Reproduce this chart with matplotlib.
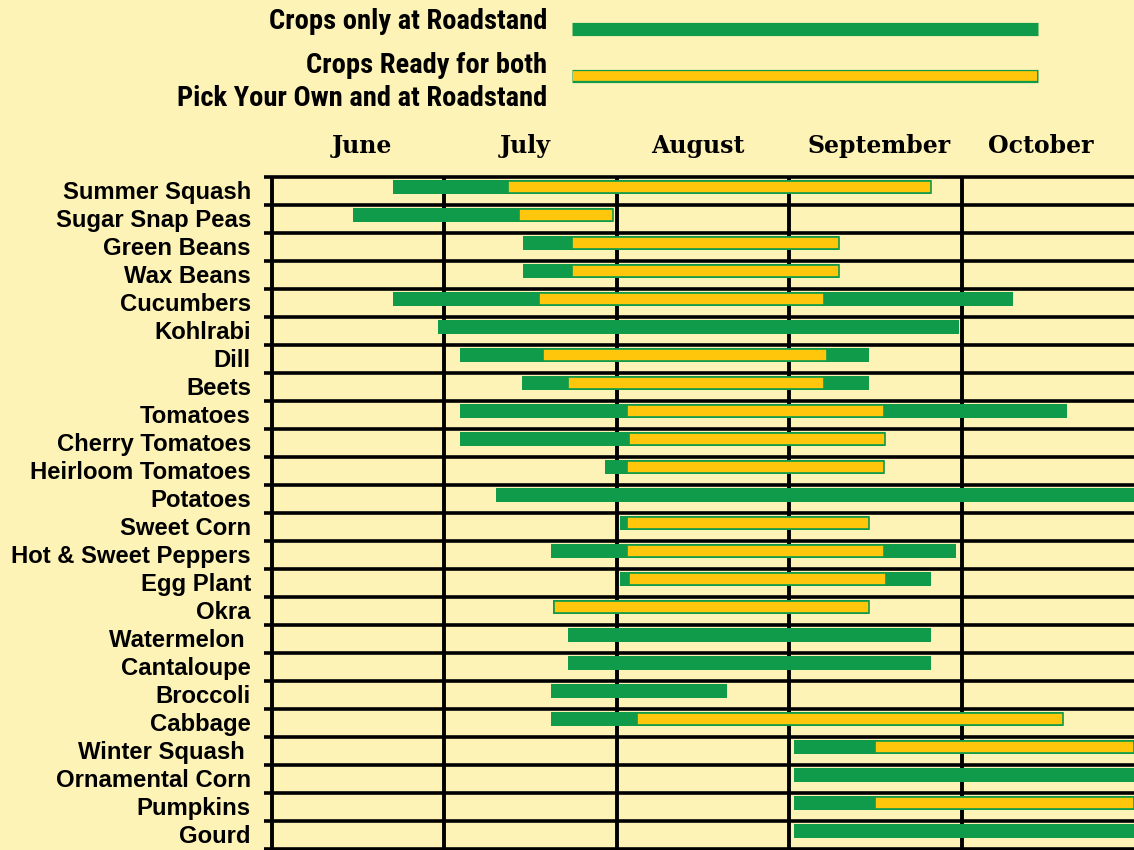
"""Pick-your-own / roadstand crop availability chart (June - October)."""
import matplotlib
matplotlib.use('Agg')
import matplotlib.pyplot as plt

# --- Data: month units, 0 = start of June, 1 = start of July, ... ---
crops = ["Summer Squash", "Sugar Snap Peas", "Green Beans", "Wax Beans",
         "Cucumbers", "Kohlrabi", "Dill", "Beets", "Tomatoes",
         "Cherry Tomatoes", "Heirloom Tomatoes", "Potatoes", "Sweet Corn",
         "Hot & Sweet Peppers", "Egg Plant", "Okra", "Watermelon ",
         "Cantaloupe", "Broccoli", "Cabbage", "Winter Squash ",
         "Ornamental Corn", "Pumpkins", "Gourd"]

# roadstand-only (green) span
green_start = [0.70, 0.47, 1.455, 1.455, 0.70, 0.96, 1.09, 1.45, 1.09,
               1.09, 1.93, 1.30, 2.02, 1.62, 2.02, 1.63, 1.715,
               1.715, 1.62, 1.62, 3.03, 3.03, 3.03, 3.03]
green_end = [3.82, 1.98, 3.29, 3.29, 4.30, 3.985, 3.46, 3.46, 4.61,
             3.555, 3.55, 5.0, 3.46, 3.97, 3.82, 3.46, 3.82,
             3.82, 2.64, 4.59, 5.0, 5.0, 5.0, 5.0]

# pick-your-own + roadstand (yellow) span, None = not offered
yellow_start = [1.37, 1.43, 1.74, 1.74, 1.55, None, 1.57, 1.715, 2.06,
                2.07, 2.06, None, 2.06, 2.06, 2.07, 1.635, None,
                None, None, 2.12, 3.50, None, 3.50, None]
yellow_end = [3.82, 1.98, 3.29, 3.29, 3.20, None, 3.22, 3.20, 3.55,
              3.555, 3.55, None, 3.46, 3.55, 3.56, 3.46, None,
              None, None, 4.59, 5.0, None, 5.0, None]

months = ["June", "July", "August", "September", "October"]
month_label_x = [0.52, 1.47, 2.47, 3.52, 4.46]

legend_lines = ["Crops only at Roadstand", "Crops Ready for both",
                "Pick Your Own and at Roadstand"]

BG = '#FEF3B6'
GREEN = '#109B4A'
YELLOW = '#FFC60C'

W, H = 1134, 850
fig = plt.figure(figsize=(W / 100, H / 100), dpi=100, facecolor=BG)

# main grid axes: x 272..1134 px, y 177..849 px
ax = fig.add_axes([272 / W, 1 / H, (W - 272) / W, 672 / H])
ax.set_facecolor(BG)
ax.set_xlim(0, 5)
ax.set_ylim(len(crops), 0)
ax.axis('off')

n = len(crops)
ax.hlines(range(n + 1), -0.045, 5, color='black', linewidth=2.6, clip_on=False, zorder=1)
ax.vlines([0, 1, 2, 3, 4], 0, n, color='black', linewidth=2.8, clip_on=False, zorder=1)

for i in range(n):
    yc = i + 0.36
    ax.barh(yc, green_end[i] - green_start[i], left=green_start[i], height=0.48,
            color=GREEN, linewidth=0, zorder=3)
    if yellow_start[i] is not None:
        ax.barh(yc, yellow_end[i] - yellow_start[i], left=yellow_start[i], height=0.44,
                color=YELLOW, edgecolor=GREEN, linewidth=1.2, zorder=4)
    ax.text(-0.122, i + 0.77, crops[i], ha='right', va='baseline',
            fontsize=17.2, fontweight='bold', family='Liberation Sans', clip_on=False)

for x, m in zip(month_label_x, months):
    ax.text(x, -1.1, m, ha='center', va='center', fontsize=17,
            fontweight='bold', family='DejaVu Serif', clip_on=False)

# legend drawn in pixel space
lax = fig.add_axes([0, 0, 1, 1], zorder=-1)
lax.set_xlim(0, W)
lax.set_ylim(H, 0)
lax.axis('off')
lax.patch.set_alpha(0)

cond = ['Roboto Condensed', 'Open Sans Condensed', 'Roboto']
for txt, y in zip(legend_lines, [21, 65, 98]):
    lax.text(547, y, txt, ha='right', va='center', fontsize=20.5,
             fontweight='bold', family=cond)
lax.plot([572, 1038], [29, 29], color=GREEN, linewidth=9.5, solid_capstyle='butt')
lax.plot([572, 1038], [76, 76], color=GREEN, linewidth=9.5, solid_capstyle='butt')
lax.plot([573, 1037], [76, 76], color=YELLOW, linewidth=7, solid_capstyle='butt')

fig.savefig('out.png', dpi=100, facecolor=BG)
